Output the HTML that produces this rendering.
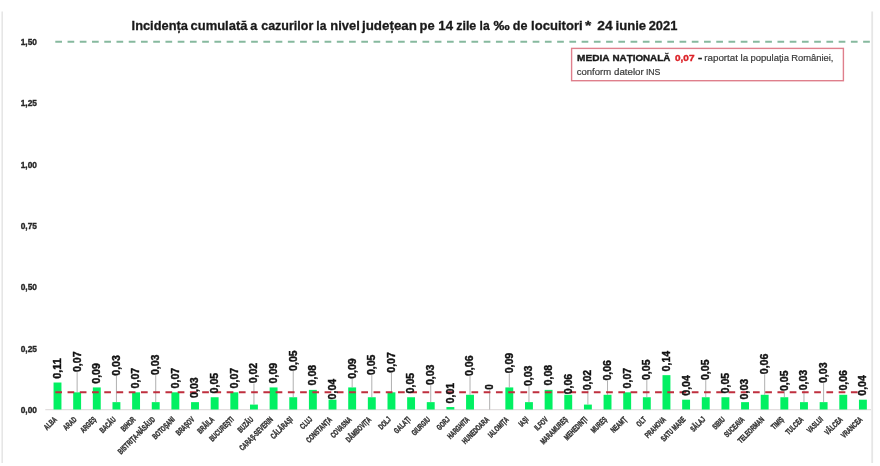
<!DOCTYPE html><html><head><meta charset="utf-8"><style>html,body{margin:0;padding:0;background:#fff;}svg{display:block;filter:blur(0.35px);}</style></head><body>
<svg width="880" height="466" viewBox="0 0 880 466" font-family="Liberation Sans, sans-serif">
<rect x="0" y="0" width="880" height="466" fill="#fff"/>
<line x1="2.2" y1="11.5" x2="2.2" y2="463" stroke="#e6e6e6" stroke-width="1.6"/>
<line x1="872.2" y1="11.5" x2="872.2" y2="463" stroke="#e6e6e6" stroke-width="1.8"/>
<text x="131.6" y="30" font-size="13.5" font-weight="bold" fill="#1a1a1a" stroke="#1a1a1a" stroke-width="0.3" textLength="56.3" lengthAdjust="spacingAndGlyphs">Incidența</text>
<text x="190.5" y="30" font-size="13.5" font-weight="bold" fill="#1a1a1a" stroke="#1a1a1a" stroke-width="0.3" textLength="57.0" lengthAdjust="spacingAndGlyphs">cumulată</text>
<text x="250.3" y="30" font-size="13.5" font-weight="bold" fill="#1a1a1a" stroke="#1a1a1a" stroke-width="0.3" textLength="7.1" lengthAdjust="spacingAndGlyphs">a</text>
<text x="261.2" y="30" font-size="13.5" font-weight="bold" fill="#1a1a1a" stroke="#1a1a1a" stroke-width="0.3" textLength="52.1" lengthAdjust="spacingAndGlyphs">cazurilor</text>
<text x="316.3" y="30" font-size="13.5" font-weight="bold" fill="#1a1a1a" stroke="#1a1a1a" stroke-width="0.3" textLength="10.1" lengthAdjust="spacingAndGlyphs">la</text>
<text x="330.3" y="30" font-size="13.5" font-weight="bold" fill="#1a1a1a" stroke="#1a1a1a" stroke-width="0.3" textLength="29.5" lengthAdjust="spacingAndGlyphs">nivel</text>
<text x="362.0" y="30" font-size="13.5" font-weight="bold" fill="#1a1a1a" stroke="#1a1a1a" stroke-width="0.3" textLength="54.9" lengthAdjust="spacingAndGlyphs">județean</text>
<text x="419.6" y="30" font-size="13.5" font-weight="bold" fill="#1a1a1a" stroke="#1a1a1a" stroke-width="0.3" textLength="15.1" lengthAdjust="spacingAndGlyphs">pe</text>
<text x="438.3" y="30" font-size="13.5" font-weight="bold" fill="#1a1a1a" stroke="#1a1a1a" stroke-width="0.3" textLength="14.7" lengthAdjust="spacingAndGlyphs">14</text>
<text x="456.2" y="30" font-size="13.5" font-weight="bold" fill="#1a1a1a" stroke="#1a1a1a" stroke-width="0.3" textLength="20.1" lengthAdjust="spacingAndGlyphs">zile</text>
<text x="479.6" y="30" font-size="13.5" font-weight="bold" fill="#1a1a1a" stroke="#1a1a1a" stroke-width="0.3" textLength="10.1" lengthAdjust="spacingAndGlyphs">la</text>
<text x="493.5" y="30" font-size="13.5" font-weight="bold" fill="#1a1a1a" stroke="#1a1a1a" stroke-width="0.3" textLength="16.2" lengthAdjust="spacingAndGlyphs">‰</text>
<text x="512.8" y="30" font-size="13.5" font-weight="bold" fill="#1a1a1a" stroke="#1a1a1a" stroke-width="0.3" textLength="14.7" lengthAdjust="spacingAndGlyphs">de</text>
<text x="531.1" y="30" font-size="13.5" font-weight="bold" fill="#1a1a1a" stroke="#1a1a1a" stroke-width="0.3" textLength="51.5" lengthAdjust="spacingAndGlyphs">locuitori</text>
<text x="585.0" y="30" font-size="13.5" font-weight="bold" fill="#1a1a1a" stroke="#1a1a1a" stroke-width="0.3" textLength="6.3" lengthAdjust="spacingAndGlyphs">*</text>
<text x="597.3" y="30" font-size="13.5" font-weight="bold" fill="#1a1a1a" stroke="#1a1a1a" stroke-width="0.3" textLength="15.4" lengthAdjust="spacingAndGlyphs">24</text>
<text x="615.5" y="30" font-size="13.5" font-weight="bold" fill="#1a1a1a" stroke="#1a1a1a" stroke-width="0.3" textLength="30.7" lengthAdjust="spacingAndGlyphs">iunie</text>
<text x="648.7" y="30" font-size="13.5" font-weight="bold" fill="#1a1a1a" stroke="#1a1a1a" stroke-width="0.3" textLength="28.7" lengthAdjust="spacingAndGlyphs">2021</text>
<text x="37" y="44.8" font-size="9" font-weight="bold" fill="#262626" stroke="#262626" stroke-width="0.35" text-anchor="end" textLength="16.3" lengthAdjust="spacingAndGlyphs">1,50</text>
<text x="37" y="106.2" font-size="9" font-weight="bold" fill="#262626" stroke="#262626" stroke-width="0.35" text-anchor="end" textLength="16.3" lengthAdjust="spacingAndGlyphs">1,25</text>
<text x="37" y="167.5" font-size="9" font-weight="bold" fill="#262626" stroke="#262626" stroke-width="0.35" text-anchor="end" textLength="16.3" lengthAdjust="spacingAndGlyphs">1,00</text>
<text x="37" y="228.8" font-size="9" font-weight="bold" fill="#262626" stroke="#262626" stroke-width="0.35" text-anchor="end" textLength="16.3" lengthAdjust="spacingAndGlyphs">0,75</text>
<text x="37" y="290.2" font-size="9" font-weight="bold" fill="#262626" stroke="#262626" stroke-width="0.35" text-anchor="end" textLength="16.3" lengthAdjust="spacingAndGlyphs">0,50</text>
<text x="37" y="351.5" font-size="9" font-weight="bold" fill="#262626" stroke="#262626" stroke-width="0.35" text-anchor="end" textLength="16.3" lengthAdjust="spacingAndGlyphs">0,25</text>
<text x="37" y="412.8" font-size="9" font-weight="bold" fill="#262626" stroke="#262626" stroke-width="0.35" text-anchor="end" textLength="16.3" lengthAdjust="spacingAndGlyphs">0,00</text>
<line x1="55.3" y1="41.8" x2="870" y2="41.8" stroke="#86b99e" stroke-width="2" stroke-dasharray="6.7 5.54"/>
<rect x="571.6" y="48.4" width="271.8" height="32.3" fill="#fff" stroke="#df7f8c" stroke-width="1.4"/>
<text x="577.1" y="61.1" font-size="9.8" font-weight="bold" fill="#1a1a1a" stroke="#1a1a1a" stroke-width="0.40" textLength="32.4" lengthAdjust="spacingAndGlyphs">MEDIA</text>
<text x="612.5" y="61.1" font-size="9.8" font-weight="bold" fill="#1a1a1a" stroke="#1a1a1a" stroke-width="0.40" textLength="57.8" lengthAdjust="spacingAndGlyphs">NAȚIONALĂ</text>
<text x="675.0" y="61.1" font-size="9.8" font-weight="bold" fill="#dc2228" stroke="#dc2228" stroke-width="0.40" textLength="19.5" lengthAdjust="spacingAndGlyphs">0,07</text>
<text x="698.0" y="61.2" font-size="9.8" font-weight="bold" fill="#1a1a1a" stroke="#1a1a1a" stroke-width="0.40" textLength="4.2" lengthAdjust="spacingAndGlyphs">-</text>
<text x="704.3" y="61.3" font-size="9.5" fill="#3a3a3a" stroke="#3a3a3a" stroke-width="0.20" textLength="33.7" lengthAdjust="spacingAndGlyphs">raportat</text>
<text x="740.5" y="61.3" font-size="9.5" fill="#3a3a3a" stroke="#3a3a3a" stroke-width="0.20" textLength="7.7" lengthAdjust="spacingAndGlyphs">la</text>
<text x="750.5" y="61.3" font-size="9.5" fill="#3a3a3a" stroke="#3a3a3a" stroke-width="0.20" textLength="38.5" lengthAdjust="spacingAndGlyphs">populația</text>
<text x="791.2" y="61.3" font-size="9.5" fill="#3a3a3a" stroke="#3a3a3a" stroke-width="0.20" textLength="42.3" lengthAdjust="spacingAndGlyphs">României,</text>
<text x="576.7" y="74.6" font-size="9.5" fill="#3a3a3a" stroke="#3a3a3a" stroke-width="0.20" textLength="34.4" lengthAdjust="spacingAndGlyphs">conform</text>
<text x="614.0" y="74.6" font-size="9.5" fill="#3a3a3a" stroke="#3a3a3a" stroke-width="0.20" textLength="29.7" lengthAdjust="spacingAndGlyphs">datelor</text>
<text x="645.9" y="74.6" font-size="9.5" fill="#3a3a3a" stroke="#3a3a3a" stroke-width="0.20" textLength="14.5" lengthAdjust="spacingAndGlyphs">INS</text>
<line x1="45.3" y1="409.6" x2="871" y2="409.6" stroke="#e2dede" stroke-width="1.2"/>
<rect x="53.55" y="382.52" width="7.90" height="26.98" fill="#02f062"/>
<rect x="73.19" y="392.33" width="7.90" height="17.17" fill="#02f062"/>
<rect x="92.84" y="387.42" width="7.90" height="22.08" fill="#02f062"/>
<rect x="112.48" y="402.14" width="7.90" height="7.36" fill="#02f062"/>
<rect x="132.13" y="392.33" width="7.90" height="17.17" fill="#02f062"/>
<rect x="151.77" y="402.14" width="7.90" height="7.36" fill="#02f062"/>
<rect x="171.41" y="392.33" width="7.90" height="17.17" fill="#02f062"/>
<rect x="191.06" y="402.14" width="7.90" height="7.36" fill="#02f062"/>
<rect x="210.70" y="397.24" width="7.90" height="12.27" fill="#02f062"/>
<rect x="230.35" y="392.33" width="7.90" height="17.17" fill="#02f062"/>
<rect x="249.99" y="404.59" width="7.90" height="4.91" fill="#02f062"/>
<rect x="269.63" y="387.42" width="7.90" height="22.08" fill="#02f062"/>
<rect x="289.28" y="397.24" width="7.90" height="12.27" fill="#02f062"/>
<rect x="308.92" y="389.88" width="7.90" height="19.62" fill="#02f062"/>
<rect x="328.57" y="399.69" width="7.90" height="9.81" fill="#02f062"/>
<rect x="348.21" y="387.42" width="7.90" height="22.08" fill="#02f062"/>
<rect x="367.85" y="397.24" width="7.90" height="12.27" fill="#02f062"/>
<rect x="387.50" y="392.33" width="7.90" height="17.17" fill="#02f062"/>
<rect x="407.14" y="397.24" width="7.90" height="12.27" fill="#02f062"/>
<rect x="426.79" y="402.14" width="7.90" height="7.36" fill="#02f062"/>
<rect x="446.43" y="407.05" width="7.90" height="2.45" fill="#02f062"/>
<rect x="466.07" y="394.78" width="7.90" height="14.72" fill="#02f062"/>
<rect x="505.36" y="387.42" width="7.90" height="22.08" fill="#02f062"/>
<rect x="525.01" y="402.14" width="7.90" height="7.36" fill="#02f062"/>
<rect x="544.65" y="389.88" width="7.90" height="19.62" fill="#02f062"/>
<rect x="564.29" y="394.78" width="7.90" height="14.72" fill="#02f062"/>
<rect x="583.94" y="404.59" width="7.90" height="4.91" fill="#02f062"/>
<rect x="603.58" y="394.78" width="7.90" height="14.72" fill="#02f062"/>
<rect x="623.23" y="392.33" width="7.90" height="17.17" fill="#02f062"/>
<rect x="642.87" y="397.24" width="7.90" height="12.27" fill="#02f062"/>
<rect x="662.51" y="375.16" width="7.90" height="34.34" fill="#02f062"/>
<rect x="682.16" y="399.69" width="7.90" height="9.81" fill="#02f062"/>
<rect x="701.80" y="397.24" width="7.90" height="12.27" fill="#02f062"/>
<rect x="721.45" y="397.24" width="7.90" height="12.27" fill="#02f062"/>
<rect x="741.09" y="402.14" width="7.90" height="7.36" fill="#02f062"/>
<rect x="760.73" y="394.78" width="7.90" height="14.72" fill="#02f062"/>
<rect x="780.38" y="397.24" width="7.90" height="12.27" fill="#02f062"/>
<rect x="800.02" y="402.14" width="7.90" height="7.36" fill="#02f062"/>
<rect x="819.67" y="402.14" width="7.90" height="7.36" fill="#02f062"/>
<rect x="839.31" y="394.78" width="7.90" height="14.72" fill="#02f062"/>
<rect x="858.95" y="399.69" width="7.90" height="9.81" fill="#02f062"/>
<line x1="77.14" y1="372.10" x2="77.14" y2="392.33" stroke="#9c9c9c" stroke-width="0.8"/>
<line x1="116.43" y1="375.80" x2="116.43" y2="402.14" stroke="#9c9c9c" stroke-width="0.8"/>
<line x1="155.72" y1="375.20" x2="155.72" y2="402.14" stroke="#9c9c9c" stroke-width="0.8"/>
<line x1="253.94" y1="383.40" x2="253.94" y2="404.59" stroke="#9c9c9c" stroke-width="0.8"/>
<line x1="293.23" y1="371.00" x2="293.23" y2="397.24" stroke="#9c9c9c" stroke-width="0.8"/>
<line x1="352.16" y1="378.90" x2="352.16" y2="387.42" stroke="#9c9c9c" stroke-width="0.8"/>
<line x1="371.80" y1="375.20" x2="371.80" y2="397.24" stroke="#9c9c9c" stroke-width="0.8"/>
<line x1="391.45" y1="372.80" x2="391.45" y2="392.33" stroke="#9c9c9c" stroke-width="0.8"/>
<line x1="430.74" y1="385.20" x2="430.74" y2="402.14" stroke="#9c9c9c" stroke-width="0.8"/>
<line x1="470.02" y1="376.10" x2="470.02" y2="394.78" stroke="#9c9c9c" stroke-width="0.8"/>
<line x1="489.67" y1="389.80" x2="489.67" y2="409.50" stroke="#9c9c9c" stroke-width="0.8"/>
<line x1="509.31" y1="373.40" x2="509.31" y2="387.42" stroke="#9c9c9c" stroke-width="0.8"/>
<line x1="528.96" y1="386.20" x2="528.96" y2="402.14" stroke="#9c9c9c" stroke-width="0.8"/>
<line x1="587.89" y1="390.40" x2="587.89" y2="404.59" stroke="#9c9c9c" stroke-width="0.8"/>
<line x1="607.53" y1="380.70" x2="607.53" y2="394.78" stroke="#9c9c9c" stroke-width="0.8"/>
<line x1="646.82" y1="380.10" x2="646.82" y2="397.24" stroke="#9c9c9c" stroke-width="0.8"/>
<line x1="705.75" y1="380.10" x2="705.75" y2="397.24" stroke="#9c9c9c" stroke-width="0.8"/>
<line x1="764.68" y1="374.30" x2="764.68" y2="394.78" stroke="#9c9c9c" stroke-width="0.8"/>
<line x1="784.33" y1="391.10" x2="784.33" y2="397.24" stroke="#9c9c9c" stroke-width="0.8"/>
<line x1="803.97" y1="390.40" x2="803.97" y2="402.14" stroke="#9c9c9c" stroke-width="0.8"/>
<line x1="823.62" y1="383.10" x2="823.62" y2="402.14" stroke="#9c9c9c" stroke-width="0.8"/>
<line x1="55.3" y1="392.3" x2="858" y2="392.3" stroke="#bf2f3e" stroke-width="2.1" stroke-dasharray="6.7 5.54"/>
<text transform="translate(60.90 378.80) rotate(-90)" font-size="10.2" font-weight="bold" fill="#111" stroke="#111" stroke-width="0.4" textLength="20.5" lengthAdjust="spacingAndGlyphs">0,11</text>
<text transform="translate(80.54 372.00) rotate(-90)" font-size="10.2" font-weight="bold" fill="#111" stroke="#111" stroke-width="0.4" textLength="20.5" lengthAdjust="spacingAndGlyphs">0,07</text>
<text transform="translate(100.19 383.70) rotate(-90)" font-size="10.2" font-weight="bold" fill="#111" stroke="#111" stroke-width="0.4" textLength="20.5" lengthAdjust="spacingAndGlyphs">0,09</text>
<text transform="translate(119.83 375.70) rotate(-90)" font-size="10.2" font-weight="bold" fill="#111" stroke="#111" stroke-width="0.4" textLength="20.5" lengthAdjust="spacingAndGlyphs">0,03</text>
<text transform="translate(139.48 388.40) rotate(-90)" font-size="10.2" font-weight="bold" fill="#111" stroke="#111" stroke-width="0.4" textLength="20.5" lengthAdjust="spacingAndGlyphs">0,07</text>
<text transform="translate(159.12 375.10) rotate(-90)" font-size="10.2" font-weight="bold" fill="#111" stroke="#111" stroke-width="0.4" textLength="20.5" lengthAdjust="spacingAndGlyphs">0,03</text>
<text transform="translate(178.76 388.40) rotate(-90)" font-size="10.2" font-weight="bold" fill="#111" stroke="#111" stroke-width="0.4" textLength="20.5" lengthAdjust="spacingAndGlyphs">0,07</text>
<text transform="translate(198.41 397.90) rotate(-90)" font-size="10.2" font-weight="bold" fill="#111" stroke="#111" stroke-width="0.4" textLength="20.5" lengthAdjust="spacingAndGlyphs">0,03</text>
<text transform="translate(218.05 393.40) rotate(-90)" font-size="10.2" font-weight="bold" fill="#111" stroke="#111" stroke-width="0.4" textLength="20.5" lengthAdjust="spacingAndGlyphs">0,05</text>
<text transform="translate(237.70 388.40) rotate(-90)" font-size="10.2" font-weight="bold" fill="#111" stroke="#111" stroke-width="0.4" textLength="20.5" lengthAdjust="spacingAndGlyphs">0,07</text>
<text transform="translate(257.34 383.30) rotate(-90)" font-size="10.2" font-weight="bold" fill="#111" stroke="#111" stroke-width="0.4" textLength="20.5" lengthAdjust="spacingAndGlyphs">0,02</text>
<text transform="translate(276.98 383.40) rotate(-90)" font-size="10.2" font-weight="bold" fill="#111" stroke="#111" stroke-width="0.4" textLength="20.5" lengthAdjust="spacingAndGlyphs">0,09</text>
<text transform="translate(296.63 370.90) rotate(-90)" font-size="10.2" font-weight="bold" fill="#111" stroke="#111" stroke-width="0.4" textLength="20.5" lengthAdjust="spacingAndGlyphs">0,05</text>
<text transform="translate(316.27 385.40) rotate(-90)" font-size="10.2" font-weight="bold" fill="#111" stroke="#111" stroke-width="0.4" textLength="20.5" lengthAdjust="spacingAndGlyphs">0,08</text>
<text transform="translate(335.92 399.40) rotate(-90)" font-size="10.2" font-weight="bold" fill="#111" stroke="#111" stroke-width="0.4" textLength="20.5" lengthAdjust="spacingAndGlyphs">0,04</text>
<text transform="translate(355.56 378.80) rotate(-90)" font-size="10.2" font-weight="bold" fill="#111" stroke="#111" stroke-width="0.4" textLength="20.5" lengthAdjust="spacingAndGlyphs">0,09</text>
<text transform="translate(375.20 375.10) rotate(-90)" font-size="10.2" font-weight="bold" fill="#111" stroke="#111" stroke-width="0.4" textLength="20.5" lengthAdjust="spacingAndGlyphs">0,05</text>
<text transform="translate(394.85 372.70) rotate(-90)" font-size="10.2" font-weight="bold" fill="#111" stroke="#111" stroke-width="0.4" textLength="20.5" lengthAdjust="spacingAndGlyphs">0,07</text>
<text transform="translate(414.49 393.40) rotate(-90)" font-size="10.2" font-weight="bold" fill="#111" stroke="#111" stroke-width="0.4" textLength="20.5" lengthAdjust="spacingAndGlyphs">0,05</text>
<text transform="translate(434.14 385.10) rotate(-90)" font-size="10.2" font-weight="bold" fill="#111" stroke="#111" stroke-width="0.4" textLength="20.5" lengthAdjust="spacingAndGlyphs">0,03</text>
<text transform="translate(453.78 403.40) rotate(-90)" font-size="10.2" font-weight="bold" fill="#111" stroke="#111" stroke-width="0.4" textLength="20.5" lengthAdjust="spacingAndGlyphs">0,01</text>
<text transform="translate(473.42 376.00) rotate(-90)" font-size="10.2" font-weight="bold" fill="#111" stroke="#111" stroke-width="0.4" textLength="20.5" lengthAdjust="spacingAndGlyphs">0,06</text>
<text transform="translate(493.07 389.70) rotate(-90)" font-size="10.2" font-weight="bold" fill="#111" stroke="#111" stroke-width="0.4" textLength="5.5" lengthAdjust="spacingAndGlyphs">0</text>
<text transform="translate(512.71 373.30) rotate(-90)" font-size="10.2" font-weight="bold" fill="#111" stroke="#111" stroke-width="0.4" textLength="20.5" lengthAdjust="spacingAndGlyphs">0,09</text>
<text transform="translate(532.36 386.10) rotate(-90)" font-size="10.2" font-weight="bold" fill="#111" stroke="#111" stroke-width="0.4" textLength="20.5" lengthAdjust="spacingAndGlyphs">0,03</text>
<text transform="translate(552.00 385.40) rotate(-90)" font-size="10.2" font-weight="bold" fill="#111" stroke="#111" stroke-width="0.4" textLength="20.5" lengthAdjust="spacingAndGlyphs">0,08</text>
<text transform="translate(571.64 394.30) rotate(-90)" font-size="10.2" font-weight="bold" fill="#111" stroke="#111" stroke-width="0.4" textLength="20.5" lengthAdjust="spacingAndGlyphs">0,06</text>
<text transform="translate(591.29 390.30) rotate(-90)" font-size="10.2" font-weight="bold" fill="#111" stroke="#111" stroke-width="0.4" textLength="20.5" lengthAdjust="spacingAndGlyphs">0,02</text>
<text transform="translate(610.93 380.60) rotate(-90)" font-size="10.2" font-weight="bold" fill="#111" stroke="#111" stroke-width="0.4" textLength="20.5" lengthAdjust="spacingAndGlyphs">0,06</text>
<text transform="translate(630.58 388.40) rotate(-90)" font-size="10.2" font-weight="bold" fill="#111" stroke="#111" stroke-width="0.4" textLength="20.5" lengthAdjust="spacingAndGlyphs">0,07</text>
<text transform="translate(650.22 380.00) rotate(-90)" font-size="10.2" font-weight="bold" fill="#111" stroke="#111" stroke-width="0.4" textLength="20.5" lengthAdjust="spacingAndGlyphs">0,05</text>
<text transform="translate(669.86 371.40) rotate(-90)" font-size="10.2" font-weight="bold" fill="#111" stroke="#111" stroke-width="0.4" textLength="20.5" lengthAdjust="spacingAndGlyphs">0,14</text>
<text transform="translate(689.51 395.70) rotate(-90)" font-size="10.2" font-weight="bold" fill="#111" stroke="#111" stroke-width="0.4" textLength="20.5" lengthAdjust="spacingAndGlyphs">0,04</text>
<text transform="translate(709.15 380.00) rotate(-90)" font-size="10.2" font-weight="bold" fill="#111" stroke="#111" stroke-width="0.4" textLength="20.5" lengthAdjust="spacingAndGlyphs">0,05</text>
<text transform="translate(728.80 393.40) rotate(-90)" font-size="10.2" font-weight="bold" fill="#111" stroke="#111" stroke-width="0.4" textLength="20.5" lengthAdjust="spacingAndGlyphs">0,05</text>
<text transform="translate(748.44 399.40) rotate(-90)" font-size="10.2" font-weight="bold" fill="#111" stroke="#111" stroke-width="0.4" textLength="20.5" lengthAdjust="spacingAndGlyphs">0,03</text>
<text transform="translate(768.08 374.20) rotate(-90)" font-size="10.2" font-weight="bold" fill="#111" stroke="#111" stroke-width="0.4" textLength="20.5" lengthAdjust="spacingAndGlyphs">0,06</text>
<text transform="translate(787.73 391.00) rotate(-90)" font-size="10.2" font-weight="bold" fill="#111" stroke="#111" stroke-width="0.4" textLength="20.5" lengthAdjust="spacingAndGlyphs">0,05</text>
<text transform="translate(807.37 390.30) rotate(-90)" font-size="10.2" font-weight="bold" fill="#111" stroke="#111" stroke-width="0.4" textLength="20.5" lengthAdjust="spacingAndGlyphs">0,03</text>
<text transform="translate(827.02 383.00) rotate(-90)" font-size="10.2" font-weight="bold" fill="#111" stroke="#111" stroke-width="0.4" textLength="20.5" lengthAdjust="spacingAndGlyphs">0,03</text>
<text transform="translate(846.66 390.60) rotate(-90)" font-size="10.2" font-weight="bold" fill="#111" stroke="#111" stroke-width="0.4" textLength="20.5" lengthAdjust="spacingAndGlyphs">0,06</text>
<text transform="translate(866.30 395.70) rotate(-90)" font-size="10.2" font-weight="bold" fill="#111" stroke="#111" stroke-width="0.4" textLength="20.5" lengthAdjust="spacingAndGlyphs">0,04</text>
<text transform="translate(57.50 420) rotate(-45) scale(0.665 1)" font-size="8.0" font-weight="bold" fill="#2e2e2e" stroke="#2e2e2e" stroke-width="0.38" text-anchor="end">ALBA</text>
<text transform="translate(77.14 420) rotate(-45) scale(0.665 1)" font-size="8.0" font-weight="bold" fill="#2e2e2e" stroke="#2e2e2e" stroke-width="0.38" text-anchor="end">ARAD</text>
<text transform="translate(96.79 420) rotate(-45) scale(0.665 1)" font-size="8.0" font-weight="bold" fill="#2e2e2e" stroke="#2e2e2e" stroke-width="0.38" text-anchor="end">ARGEȘ</text>
<text transform="translate(116.43 420) rotate(-45) scale(0.665 1)" font-size="8.0" font-weight="bold" fill="#2e2e2e" stroke="#2e2e2e" stroke-width="0.38" text-anchor="end">BACĂU</text>
<text transform="translate(136.08 420) rotate(-45) scale(0.665 1)" font-size="8.0" font-weight="bold" fill="#2e2e2e" stroke="#2e2e2e" stroke-width="0.38" text-anchor="end">BIHOR</text>
<text transform="translate(155.72 420) rotate(-45) scale(0.665 1)" font-size="8.0" font-weight="bold" fill="#2e2e2e" stroke="#2e2e2e" stroke-width="0.38" text-anchor="end">BISTRIȚA-NĂSĂUD</text>
<text transform="translate(175.36 420) rotate(-45) scale(0.665 1)" font-size="8.0" font-weight="bold" fill="#2e2e2e" stroke="#2e2e2e" stroke-width="0.38" text-anchor="end">BOTOȘANI</text>
<text transform="translate(195.01 420) rotate(-45) scale(0.665 1)" font-size="8.0" font-weight="bold" fill="#2e2e2e" stroke="#2e2e2e" stroke-width="0.38" text-anchor="end">BRAȘOV</text>
<text transform="translate(214.65 420) rotate(-45) scale(0.665 1)" font-size="8.0" font-weight="bold" fill="#2e2e2e" stroke="#2e2e2e" stroke-width="0.38" text-anchor="end">BRĂILA</text>
<text transform="translate(234.30 420) rotate(-45) scale(0.665 1)" font-size="8.0" font-weight="bold" fill="#2e2e2e" stroke="#2e2e2e" stroke-width="0.38" text-anchor="end">BUCUREȘTI</text>
<text transform="translate(253.94 420) rotate(-45) scale(0.665 1)" font-size="8.0" font-weight="bold" fill="#2e2e2e" stroke="#2e2e2e" stroke-width="0.38" text-anchor="end">BUZĂU</text>
<text transform="translate(273.58 420) rotate(-45) scale(0.665 1)" font-size="8.0" font-weight="bold" fill="#2e2e2e" stroke="#2e2e2e" stroke-width="0.38" text-anchor="end">CARAȘ-SEVERIN</text>
<text transform="translate(293.23 420) rotate(-45) scale(0.665 1)" font-size="8.0" font-weight="bold" fill="#2e2e2e" stroke="#2e2e2e" stroke-width="0.38" text-anchor="end">CĂLĂRAȘI</text>
<text transform="translate(312.87 420) rotate(-45) scale(0.665 1)" font-size="8.0" font-weight="bold" fill="#2e2e2e" stroke="#2e2e2e" stroke-width="0.38" text-anchor="end">CLUJ</text>
<text transform="translate(332.52 420) rotate(-45) scale(0.665 1)" font-size="8.0" font-weight="bold" fill="#2e2e2e" stroke="#2e2e2e" stroke-width="0.38" text-anchor="end">CONSTANȚA</text>
<text transform="translate(352.16 420) rotate(-45) scale(0.665 1)" font-size="8.0" font-weight="bold" fill="#2e2e2e" stroke="#2e2e2e" stroke-width="0.38" text-anchor="end">COVASNA</text>
<text transform="translate(371.80 420) rotate(-45) scale(0.665 1)" font-size="8.0" font-weight="bold" fill="#2e2e2e" stroke="#2e2e2e" stroke-width="0.38" text-anchor="end">DÂMBOVIȚA</text>
<text transform="translate(391.45 420) rotate(-45) scale(0.665 1)" font-size="8.0" font-weight="bold" fill="#2e2e2e" stroke="#2e2e2e" stroke-width="0.38" text-anchor="end">DOLJ</text>
<text transform="translate(411.09 420) rotate(-45) scale(0.665 1)" font-size="8.0" font-weight="bold" fill="#2e2e2e" stroke="#2e2e2e" stroke-width="0.38" text-anchor="end">GALAȚI</text>
<text transform="translate(430.74 420) rotate(-45) scale(0.665 1)" font-size="8.0" font-weight="bold" fill="#2e2e2e" stroke="#2e2e2e" stroke-width="0.38" text-anchor="end">GIURGIU</text>
<text transform="translate(450.38 420) rotate(-45) scale(0.665 1)" font-size="8.0" font-weight="bold" fill="#2e2e2e" stroke="#2e2e2e" stroke-width="0.38" text-anchor="end">GORJ</text>
<text transform="translate(470.02 420) rotate(-45) scale(0.665 1)" font-size="8.0" font-weight="bold" fill="#2e2e2e" stroke="#2e2e2e" stroke-width="0.38" text-anchor="end">HARGHITA</text>
<text transform="translate(489.67 420) rotate(-45) scale(0.665 1)" font-size="8.0" font-weight="bold" fill="#2e2e2e" stroke="#2e2e2e" stroke-width="0.38" text-anchor="end">HUNEDOARA</text>
<text transform="translate(509.31 420) rotate(-45) scale(0.665 1)" font-size="8.0" font-weight="bold" fill="#2e2e2e" stroke="#2e2e2e" stroke-width="0.38" text-anchor="end">IALOMIȚA</text>
<text transform="translate(528.96 420) rotate(-45) scale(0.665 1)" font-size="8.0" font-weight="bold" fill="#2e2e2e" stroke="#2e2e2e" stroke-width="0.38" text-anchor="end">IAȘI</text>
<text transform="translate(548.60 420) rotate(-45) scale(0.665 1)" font-size="8.0" font-weight="bold" fill="#2e2e2e" stroke="#2e2e2e" stroke-width="0.38" text-anchor="end">ILFOV</text>
<text transform="translate(568.24 420) rotate(-45) scale(0.665 1)" font-size="8.0" font-weight="bold" fill="#2e2e2e" stroke="#2e2e2e" stroke-width="0.38" text-anchor="end">MARAMUREȘ</text>
<text transform="translate(587.89 420) rotate(-45) scale(0.665 1)" font-size="8.0" font-weight="bold" fill="#2e2e2e" stroke="#2e2e2e" stroke-width="0.38" text-anchor="end">MEHEDINȚI</text>
<text transform="translate(607.53 420) rotate(-45) scale(0.665 1)" font-size="8.0" font-weight="bold" fill="#2e2e2e" stroke="#2e2e2e" stroke-width="0.38" text-anchor="end">MUREȘ</text>
<text transform="translate(627.18 420) rotate(-45) scale(0.665 1)" font-size="8.0" font-weight="bold" fill="#2e2e2e" stroke="#2e2e2e" stroke-width="0.38" text-anchor="end">NEAMȚ</text>
<text transform="translate(646.82 420) rotate(-45) scale(0.665 1)" font-size="8.0" font-weight="bold" fill="#2e2e2e" stroke="#2e2e2e" stroke-width="0.38" text-anchor="end">OLT</text>
<text transform="translate(666.46 420) rotate(-45) scale(0.665 1)" font-size="8.0" font-weight="bold" fill="#2e2e2e" stroke="#2e2e2e" stroke-width="0.38" text-anchor="end">PRAHOVA</text>
<text transform="translate(686.11 420) rotate(-45) scale(0.665 1)" font-size="8.0" font-weight="bold" fill="#2e2e2e" stroke="#2e2e2e" stroke-width="0.38" text-anchor="end">SATU MARE</text>
<text transform="translate(705.75 420) rotate(-45) scale(0.665 1)" font-size="8.0" font-weight="bold" fill="#2e2e2e" stroke="#2e2e2e" stroke-width="0.38" text-anchor="end">SĂLAJ</text>
<text transform="translate(725.40 420) rotate(-45) scale(0.665 1)" font-size="8.0" font-weight="bold" fill="#2e2e2e" stroke="#2e2e2e" stroke-width="0.38" text-anchor="end">SIBIU</text>
<text transform="translate(745.04 420) rotate(-45) scale(0.665 1)" font-size="8.0" font-weight="bold" fill="#2e2e2e" stroke="#2e2e2e" stroke-width="0.38" text-anchor="end">SUCEAVA</text>
<text transform="translate(764.68 420) rotate(-45) scale(0.665 1)" font-size="8.0" font-weight="bold" fill="#2e2e2e" stroke="#2e2e2e" stroke-width="0.38" text-anchor="end">TELEORMAN</text>
<text transform="translate(784.33 420) rotate(-45) scale(0.665 1)" font-size="8.0" font-weight="bold" fill="#2e2e2e" stroke="#2e2e2e" stroke-width="0.38" text-anchor="end">TIMIȘ</text>
<text transform="translate(803.97 420) rotate(-45) scale(0.665 1)" font-size="8.0" font-weight="bold" fill="#2e2e2e" stroke="#2e2e2e" stroke-width="0.38" text-anchor="end">TULCEA</text>
<text transform="translate(823.62 420) rotate(-45) scale(0.665 1)" font-size="8.0" font-weight="bold" fill="#2e2e2e" stroke="#2e2e2e" stroke-width="0.38" text-anchor="end">VASLUI</text>
<text transform="translate(843.26 420) rotate(-45) scale(0.665 1)" font-size="8.0" font-weight="bold" fill="#2e2e2e" stroke="#2e2e2e" stroke-width="0.38" text-anchor="end">VÂLCEA</text>
<text transform="translate(862.90 420) rotate(-45) scale(0.665 1)" font-size="8.0" font-weight="bold" fill="#2e2e2e" stroke="#2e2e2e" stroke-width="0.38" text-anchor="end">VRANCEA</text>
</svg></body></html>
